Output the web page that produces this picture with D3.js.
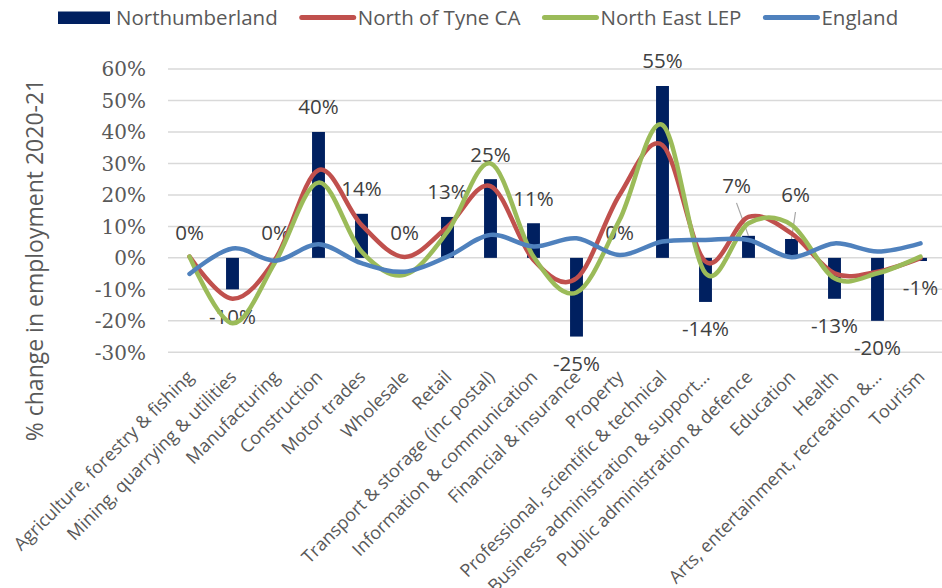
<!DOCTYPE html>
<meta charset="utf-8">
<style>
body { margin: 0; background: #fff; }
.grid line { stroke: #d9d9d9; stroke-width: 1.5; }
.tick-label { font-family: "DejaVu Serif", serif; font-size: 20px; fill: #595959; }
.cat-label { font-family: "Open Sans", sans-serif; font-size: 18px; fill: #595959; }
.data-label { font-family: "Open Sans", sans-serif; font-size: 20.5px; fill: #404040; }
.legend text { font-family: "Open Sans", sans-serif; font-size: 20.5px; fill: #595959; }
.series { fill: none; stroke-width: 4.5; stroke-linecap: round; }
</style>
<svg width="942" height="588"></svg>
<script src="https://d3js.org/d3.v7.min.js"></script>
<script>

var categories = ["Agriculture, forestry & fishing", "Mining, quarrying & utilities", "Manufacturing",
    "Construction", "Motor trades", "Wholesale", "Retail", "Transport & storage (inc postal)",
    "Information & communication", "Financial & insurance", "Property",
    "Professional, scientific & technical", "Business administration & support\u2026",
    "Public administration & defence", "Education", "Health",
    "Arts, entertainment, recreation &\u2026", "Tourism"];

// % change in employment 2020-21
var northumberland = [0, -10, 0, 40, 14, 0, 13, 25, 11, -25, 0, 54.6, -14, 7, 6, -13, -20, -1];
var northOfTyne = [0.4, -13, -0.3, 27.9, 10.5, 0.3, 9.9, 22.8, -0.7, -6.5, 20, 35.8, -1.2, 13, 7.8, -4.9, -4.4, -0.1];
var northEastLEP = [0.4, -20.8, -1.2, 23.9, 2, -5.4, 8.3, 30, 0.4, -11, 12, 42.2, -4.9, 11, 10.5, -6.5, -4.9, 0.4];
var england = [-5.1, 3, -0.9, 4.3, -1.7, -4.4, 0.4, 7.3, 3.6, 6.2, 0.9, 5.2, 5.7, 5.7, 0.2, 4.6, 2, 4.6];

var yTicks = [-30, -20, -10, 0, 10, 20, 30, 40, 50, 60];

var seriesNames = ["Northumberland", "North of Tyne CA", "North East LEP", "England"];
var colors = ["#002060", "#c0504d", "#9bbb59", "#4f81bd"];

var svg = d3.select("svg");

var x = d3.scaleBand()
    .domain(d3.range(categories.length))
    .range([168, 942])
    .paddingInner(0.7)
    .paddingOuter(0.35);

var y = d3.scaleLinear().domain([-30, 60]).range([352.3, 69]);

var xc = function(i) { return x(i) + x.bandwidth() / 2; };
var pct = function(v) { return d3.format(".0f")(v).replace("\u2212", "-") + "%"; };

// gridlines
svg.append("g").attr("class", "grid")
  .selectAll("line").data(yTicks).enter().append("line")
    .attr("x1", 168).attr("x2", 942)
    .attr("y1", function(d) { return y(d); })
    .attr("y2", function(d) { return y(d); });

svg.append("g").selectAll("text").data(yTicks).enter().append("text")
    .attr("class", "tick-label")
    .attr("x", 146)
    .attr("y", function(d) { return y(d); })
    .attr("dy", "0.36em")
    .attr("text-anchor", "end")
    .text(pct);

// y title
svg.append("text")
    .attr("transform", "translate(43,260) rotate(-90)")
    .attr("text-anchor", "middle")
    .style("font-family", "'Open Sans', sans-serif")
    .style("font-size", "23px")
    .style("fill", "#595959")
    .text("% change in employment 2020-21");

// category labels
svg.append("g").selectAll("text").data(categories).enter().append("text")
    .attr("class", "cat-label")
    .attr("transform", function(d, i) { return "translate(" + (xc(i) - 4) + ",369) rotate(-45)"; })
    .attr("text-anchor", "end")
    .attr("dy", "0.72em")
    .text(function(d) { return d; });

// bars
svg.append("g").selectAll("rect").data(northumberland).enter().append("rect")
    .attr("x", function(d, i) { return x(i); })
    .attr("width", x.bandwidth())
    .attr("y", function(d) { return y(Math.max(0, d)); })
    .attr("height", function(d) { return Math.abs(y(d) - y(0)); })
    .attr("fill", colors[0]);

// data labels; two are moved off the lines with leader lines, as in the original
var nudge = { 13: [-12, -25], 14: [4, -19] };
var labels = svg.append("g");
northumberland.forEach(function(d, i) {
  var cx = xc(i);
  var cy = d >= 0 ? y(d) - 25 : y(d) + 27;
  if (nudge[i]) {
    var bx = cx, by = y(d);
    cx += nudge[i][0];
    cy += nudge[i][1];
    labels.append("line")
        .attr("x1", cx).attr("y1", cy + 17)
        .attr("x2", bx).attr("y2", by)
        .attr("stroke", "#a6a6a6").attr("stroke-width", 1.2);
  }
  labels.append("text")
      .attr("class", "data-label")
      .attr("x", cx).attr("y", cy)
      .attr("dy", "0.36em")
      .attr("text-anchor", "middle")
      .text(pct(d));
});

// smoothed lines
var line = d3.line()
    .x(function(d, i) { return xc(i); })
    .y(function(d) { return y(d); })
    .curve(d3.curveCardinal.tension(0));

[northOfTyne, northEastLEP, england].forEach(function(s, k) {
  svg.append("path")
      .attr("class", "series")
      .attr("d", line(s))
      .attr("stroke", colors[k + 1]);
});

// legend
var legend = svg.append("g").attr("class", "legend");
var lx = 58;
seriesNames.forEach(function(name, k) {
  if (k === 0) {
    legend.append("rect").attr("x", lx).attr("y", 11.5).attr("width", 52).attr("height", 12.5).attr("fill", colors[k]);
  } else {
    legend.append("line").attr("x1", lx + 2).attr("x2", lx + 54).attr("y1", 17.5).attr("y2", 17.5)
        .attr("stroke", colors[k]).attr("stroke-width", 5).attr("stroke-linecap", "round");
  }
  var t = legend.append("text")
      .attr("x", lx + 58)
      .attr("y", 24.5)
      .text(name);
  lx += 58 + t.node().getComputedTextLength() + 22;
});

</script>
